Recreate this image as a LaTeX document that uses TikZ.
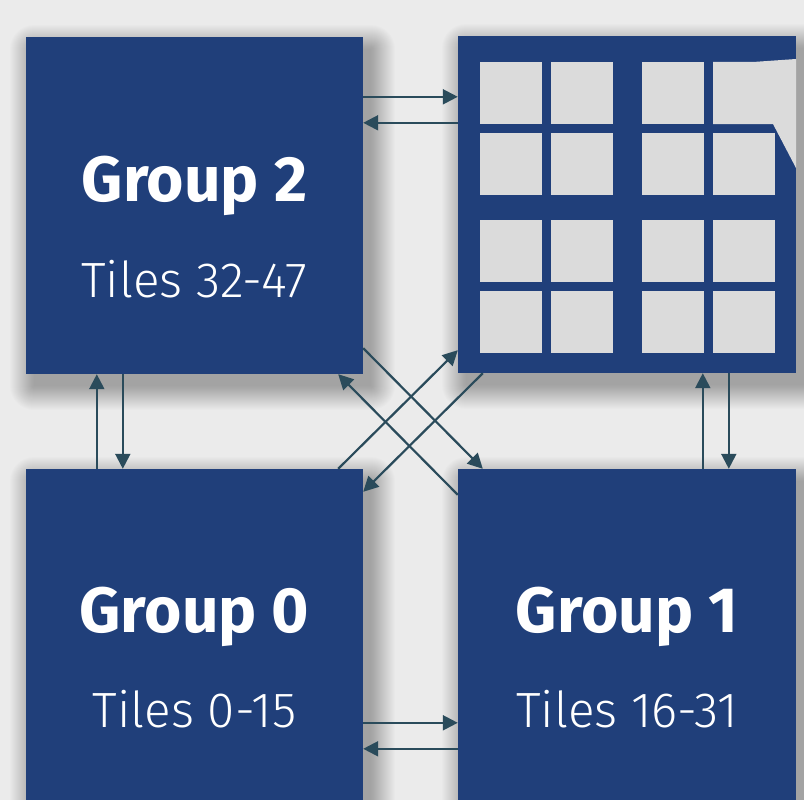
\documentclass[tikz,border=0pt]{standalone}
\usepackage{fontspec}
\setmainfont{Fira Sans}
\newfontfamily\lightfont{Fira Sans Light}
\usetikzlibrary{arrows.meta}
\definecolor{bg}{HTML}{EBEBEB}
\definecolor{boxblue}{HTML}{203F7A}
\definecolor{tilegray}{HTML}{DBDBDB}
\definecolor{arrowc}{HTML}{2A4B5B}
\tikzset{
  box/.style={fill=boxblue, draw=none, inner sep=0pt, minimum width=337pt, minimum height=337pt},
  shadowlayer/.style={fill=black, opacity=0.012},
  arr/.style={draw=arrowc, line width=2.2pt, -{Triangle[length=15pt,width=15pt]}},
  title/.style={text=white, anchor=base, inner sep=0pt, font=\fontsize{64}{70}\selectfont\bfseries},
  sub/.style={text=white, anchor=base, inner sep=0pt, font=\fontsize{49.5}{55}\selectfont\lightfont},
  tile/.style={fill=tilegray, draw=none}
}
\begin{document}
\begin{tikzpicture}[x=1pt, y=-1pt]
\clip (0,0) rectangle (804,800);
\fill[bg] (0,0) rectangle (804,800);
% soft shadows
\foreach \xa/\ya/\xb/\yb in {26/37/363/374, 458/36/796/373, 26/469/363/806, 458/469/796/806} {
  \foreach \r in {0,...,24} {
    \fill[shadowlayer, rounded corners=\r pt] (\xa+8-\r, \ya+12-\r) rectangle (\xb+8+\r, \yb+12+\r);
  }
}
% boxes
\node[box] (g2) at (194.5,205.5) {};
\node[box, minimum width=338pt] (tb) at (627,204.5) {};
\node[box] (g0) at (194.5,637.5) {};
\node[box, minimum width=338pt] (g1) at (627,637.5) {};
% tiles
\foreach \x in {480, 551, 642, 713} {
  \foreach \y in {62, 133, 220, 291} {
    \fill[tile] (\x,\y) rectangle ++(62,62);
  }
}
\fill[tile] (713,62) -- (753,62) -- (796,59) -- (796,168) -- (773,124) -- (713,124) -- cycle;
% texts
\node[title] (g2a) at ([yshift=-165pt]g2.north) {Group 2};
\node[sub] (g2b) at ([yshift=-261pt]g2.north) {Tiles 32-47};
\node[title] (g0a) at ([yshift=-164pt]g0.north) {Group 0};
\node[sub] (g0b) at ([yshift=-259pt]g0.north) {Tiles 0-15};
\node[title] (g1a) at ([yshift=-164pt]g1.north) {Group 1};
\node[sub] (g1b) at ([yshift=-259pt]g1.north) {Tiles 16-31};
% horizontal arrows
\draw[arr] ([yshift=-60pt]g2.north east) -- ([yshift=-61pt]tb.north west);
\draw[arr] ([yshift=-87pt]tb.north west) -- ([yshift=-86pt]g2.north east);
\draw[arr] ([yshift=-254pt]g0.north east) -- ([yshift=-254pt]g1.north west);
\draw[arr] ([yshift=-280pt]g1.north west) -- ([yshift=-280pt]g0.north east);
% vertical arrows
\draw[arr] ([xshift=71pt]g0.north west) -- ([xshift=71pt]g2.south west);
\draw[arr] ([xshift=97pt]g2.south west) -- ([xshift=97pt]g0.north west);
\draw[arr] ([xshift=245pt]g1.north west) -- ([xshift=245pt]tb.south west);
\draw[arr] ([xshift=271pt]tb.south west) -- ([xshift=271pt]g1.north west);
% diagonal arrows
\draw[arr] ([yshift=26pt]g2.south east) -- ([xshift=25pt]g1.north west);
\draw[arr] ([yshift=-26pt]g1.north west) -- ([xshift=-25pt]g2.south east);
\draw[arr] ([xshift=-25pt]g0.north east) -- ([yshift=23pt]tb.south west);
\draw[arr] ([xshift=25pt]tb.south west) -- ([yshift=-23pt]g0.north east);
\end{tikzpicture}
\end{document}
